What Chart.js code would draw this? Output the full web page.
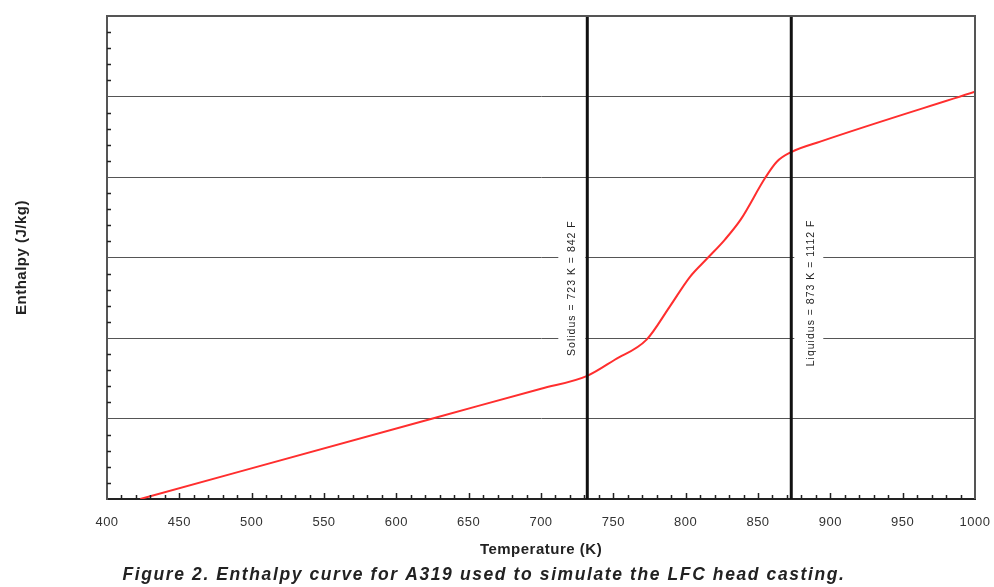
<!DOCTYPE html>
<html>
<head>
<meta charset="utf-8">
<script src="https://cdn.jsdelivr.net/npm/chart.js@4"></script>
<style>
  html, body { margin: 0; padding: 0; background: #fff; }
  #wrap { width: 994px; height: 587px; position: relative; }
</style>
</head>
<body>
<div id="wrap"><canvas id="enthalpy-chart"></canvas></div>
<script>
// enthalpy curve (y in grid units, axis has no numbers)
const temperatureK = [423, 627, 700, 732, 751, 773, 789, 803, 815, 827, 838, 855, 863, 873, 893, 1000]
const enthalpy = [0, 1.01, 1.37, 1.53, 1.73, 1.98, 2.39, 2.76, 2.99, 3.22, 3.47, 3.99, 4.19, 4.31, 4.44, 5.06]

const solidusK = 732
const liquidusK = 873
const solidusLabel = 'Solidus = 723 K = 842 F'
const liquidusLabel = 'Liquidus = 873 K = 1112 F'

const xMin = 400
const xMax = 1000
const yMin = 0
const yMax = 6

const xTitle = 'Temperature (K)'
const yTitle = 'Enthalpy (J/kg)'
const caption = 'Figure 2. Enthalpy curve for A319 used to simulate the LFC head casting.'

const fontFamily = '"Liberation Sans", Arial, sans-serif'

let spacingPlugin = {
    id: 'spacing',
    beforeDraw(chart) {
        chart.ctx.letterSpacing = '0.5px'
    }
}

let decorPlugin = {
    id: 'decor',
    beforeDatasetsDraw(chart) {
        let ctx = chart.ctx
        let x = chart.scales.x
        let y = chart.scales.y
        ctx.save()
        ctx.fillStyle = '#fff'
        // white boxes behind the vertical labels
        let sx = x.getPixelForValue(solidusK)
        ctx.fillRect(sx - 29, y.getPixelForValue(3.5), 27, y.getPixelForValue(1.7) - y.getPixelForValue(3.5))
        let lx = x.getPixelForValue(liquidusK)
        ctx.fillRect(lx + 3, y.getPixelForValue(3.5), 29, y.getPixelForValue(1.6) - y.getPixelForValue(3.5))

        ctx.fillStyle = '#222'
        ctx.font = '10.5px ' + fontFamily
        ctx.letterSpacing = '1px'
        ctx.textAlign = 'center'
        ctx.textBaseline = 'middle'
        ctx.save()
        ctx.translate(sx - 15, y.getPixelForValue(2.62))
        ctx.rotate(-Math.PI / 2)
        ctx.fillText(solidusLabel, 0, 0)
        ctx.restore()
        ctx.save()
        ctx.translate(lx + 20, y.getPixelForValue(2.56))
        ctx.rotate(-Math.PI / 2)
        ctx.fillText(liquidusLabel, 0, 0)
        ctx.restore()
        ctx.restore()
    },
    afterDraw(chart) {
        let ctx = chart.ctx
        let area = chart.chartArea
        let x = chart.scales.x
        let y = chart.scales.y
        ctx.save()
        // top and right frame
        ctx.strokeStyle = '#555'
        ctx.lineWidth = 2
        ctx.beginPath()
        ctx.moveTo(area.left, area.top)
        ctx.lineTo(area.right, area.top)
        ctx.lineTo(area.right, area.bottom)
        ctx.stroke()

        // minor ticks pointing inwards
        ctx.strokeStyle = '#222'
        ctx.lineWidth = 1.5
        ctx.beginPath()
        for (let t = xMin + 10; t < xMax; t += 10) {
            let px = Math.round(x.getPixelForValue(t)) + 0.5
            let len = t % 50 === 0 ? 6 : 4
            ctx.moveTo(px, area.bottom)
            ctx.lineTo(px, area.bottom - len)
        }
        for (let v = yMin + 0.2; v < yMax; v += 0.2) {
            if (Math.abs(v - Math.round(v)) < 0.01) continue
            let py = Math.round(y.getPixelForValue(v)) + 0.5
            ctx.moveTo(area.left, py)
            ctx.lineTo(area.left + 4, py)
        }
        ctx.stroke()

        // caption
        ctx.fillStyle = '#222'
        ctx.font = 'italic bold 17.5px ' + fontFamily
        ctx.letterSpacing = '1.6px'
        ctx.textAlign = 'center'
        ctx.textBaseline = 'middle'
        ctx.fillText(caption, 484, 575)
        ctx.restore()
    }
}

let chartElement = document.getElementById('enthalpy-chart').getContext('2d')

let enthalpyChart = new Chart(chartElement, {
    type: 'line',
    data: {
        datasets: [
            {
                label: 'Enthalpy',
                data: temperatureK.map((t, i) => ({ x: t, y: enthalpy[i] })),
                borderColor: '#ff2e2e',
                borderWidth: 2,
                pointRadius: 0,
                cubicInterpolationMode: 'monotone',
                order: 2
            },
            {
                label: 'Solidus',
                data: [{ x: solidusK, y: yMin }, { x: solidusK, y: yMax }],
                borderColor: '#111',
                borderWidth: 3,
                pointRadius: 0,
                order: 1
            },
            {
                label: 'Liquidus',
                data: [{ x: liquidusK, y: yMin }, { x: liquidusK, y: yMax }],
                borderColor: '#111',
                borderWidth: 3,
                pointRadius: 0,
                order: 1
            }
        ]
    },
    options: {
        responsive: true,
        maintainAspectRatio: false,
        animation: false,
        layout: { padding: { top: 16, right: 19, left: 0, bottom: 0 } },
        plugins: {
            legend: { display: false },
            tooltip: { enabled: false }
        },
        scales: {
            x: {
                type: 'linear',
                min: xMin,
                max: xMax,
                afterFit: scale => { scale.height = 88; scale.paddingRight = 0 },
                ticks: {
                    stepSize: 50,
                    padding: 16,
                    color: '#333',
                    font: { family: fontFamily, size: 13 },
                    maxRotation: 0,
                    callback: value => String(value)
                },
                grid: { drawOnChartArea: false, drawTicks: false },
                border: { color: '#222', width: 2 },
                title: {
                    display: true,
                    text: xTitle,
                    color: '#222',
                    font: { family: fontFamily, size: 15, weight: 'bold' },
                    padding: { top: 0, bottom: 28 }
                }
            },
            y: {
                min: yMin,
                max: yMax,
                afterFit: scale => { scale.width = 107 },
                ticks: { stepSize: 1, display: false },
                grid: { color: '#555', lineWidth: 1, drawTicks: false },
                border: { color: '#555', width: 2 },
                title: {
                    display: true,
                    text: yTitle,
                    color: '#222',
                    font: { family: fontFamily, size: 15, weight: 'bold' },
                    padding: { top: 13, bottom: 0 }
                }
            }
        }
    },
    plugins: [spacingPlugin, decorPlugin]
})
</script>
</body>
</html>
